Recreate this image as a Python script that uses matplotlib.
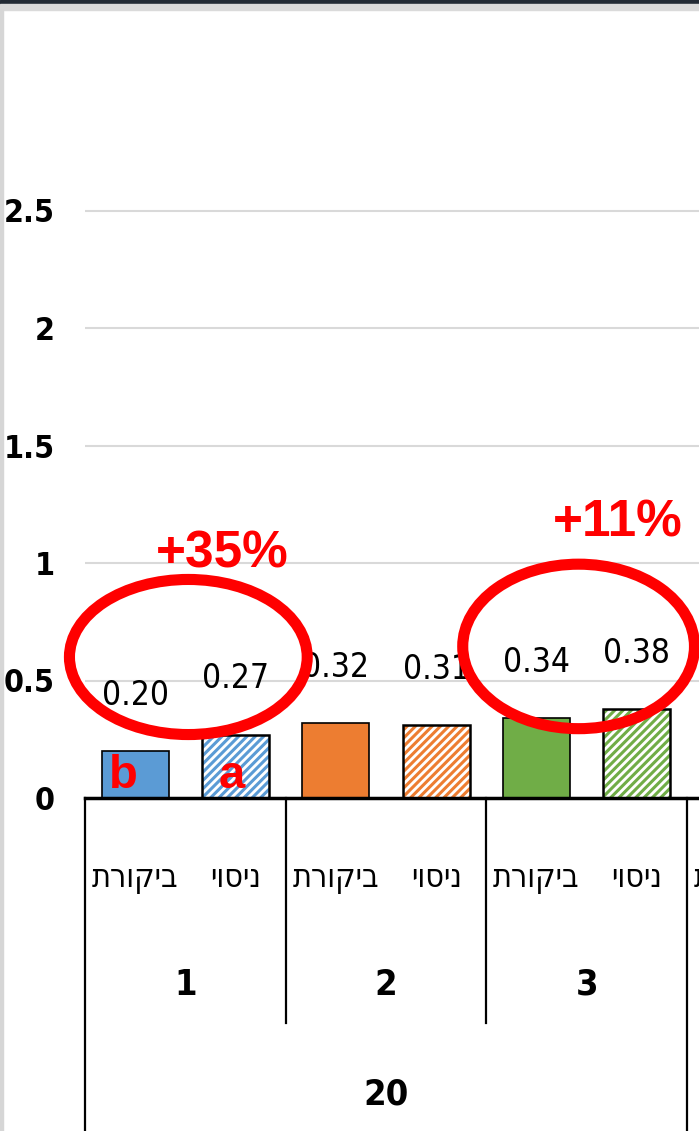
import matplotlib
matplotlib.use('Agg')
import matplotlib.pyplot as plt
from matplotlib import font_manager
from matplotlib.patches import Ellipse, Rectangle

# נתונים
values = [0.20, 0.27, 0.32, 0.31, 0.34, 0.38]
colors = ['#5B9BD5', '#5B9BD5', '#ED7D31', '#ED7D31', '#70AD47', '#70AD47']
hatched = [False, True, False, True, False, True]
bar_labels = ['ביקורת', 'ניסוי', 'ביקורת', 'ניסוי', 'ביקורת', 'ניסוי']
groups = ['1', '2', '3']
top_group = '20'
yticks = [0, 0.5, 1, 1.5, 2, 2.5]
letters = ['b', 'a']
changes = ['+35%', '+11%']

# גופן צר אם יש כזה
names = {f.name for f in font_manager.fontManager.ttflist}
if 'Liberation Sans Narrow' in names:
    NARROW = dict(family=['Liberation Sans Narrow', 'DejaVu Sans'])
else:
    NARROW = dict(family='DejaVu Sans', fontstretch='condensed')

plt.rcParams['hatch.linewidth'] = 2.2


def rtl(s):
    # matplotlib לא הופך עברית בעצמו
    return s[::-1]


fig = plt.figure(figsize=(6.99, 11.31), dpi=100)
H = 1131.0
ax = fig.add_axes([85 / 699, (H - 798) / H, 614 / 699, 705 / H])

for i, v in enumerate(values):
    if hatched[i]:
        ax.bar(i, v, 0.67, color='white', edgecolor=colors[i], hatch='////', lw=0, zorder=2)
        ax.bar(i, v, 0.67, fill=False, edgecolor='black', lw=1.8, zorder=3)
    else:
        ax.bar(i, v, 0.67, color=colors[i], edgecolor='black', lw=1.2, zorder=2)
    ax.annotate(f'{v:.2f}', (i, v), xytext=(0, 40), textcoords='offset points',
                ha='center', va='center', fontsize=24, **NARROW)

ax.set_xlim(-0.5, 5.62)
ax.set_ylim(0, 3.0)
ax.set_yticks(yticks)
ax.set_yticklabels([f'{t:g}' for t in yticks], fontsize=23, fontweight='bold', **NARROW)
ax.tick_params(axis='y', length=0, pad=22)
ax.tick_params(axis='x', length=0, labelbottom=False)
ax.grid(axis='y', color='#D9D9D9', lw=1.5, zorder=0)
for s in ['top', 'right', 'left']:
    ax.spines[s].set_visible(False)
ax.spines['bottom'].set_linewidth(2.5)

# קטגוריות מתחת לציר
tr = ax.get_xaxis_transform()
for i, lab in enumerate(bar_labels):
    ax.text(i, -0.114, rtl(lab), transform=tr, ha='center', va='center',
            fontsize=23, clip_on=False, **NARROW)
ax.text(6, -0.114, rtl('ביקורת'), transform=tr, ha='center', va='center',
        fontsize=23, clip_on=False, **NARROW)
for g, name in enumerate(groups):
    ax.text(2 * g + 0.5, -0.265, name, transform=tr, ha='center', va='center',
            fontsize=26, fontweight='bold', clip_on=False, **NARROW)
ax.text(2.5, -0.421, top_group, transform=tr, ha='center', va='center',
        fontsize=26, fontweight='bold', clip_on=False, **NARROW)

for xs in [1.5, 3.5]:
    ax.plot([xs, xs], [0, -0.319], transform=tr, color='black', lw=1.6, clip_on=False)
for xs in [-0.5, 5.5]:
    ax.plot([xs, xs], [0, -0.48], transform=tr, color='black', lw=1.6, clip_on=False)

# סימונים באדום
for i, (t, dx) in enumerate(zip(letters, [-0.12, -0.04])):
    ax.text(i + dx, 0.094, t, color='red', fontsize=34, fontweight='bold', family='Liberation Sans',
            ha='center', va='center', zorder=5)

ax.add_patch(Ellipse((0.53, 0.60), 2.37, 0.66, fill=False, edgecolor='red', lw=8, zorder=6, clip_on=False))
ax.add_patch(Ellipse((4.42, 0.645), 2.31, 0.70, fill=False, edgecolor='red', lw=8, zorder=6, clip_on=False))
ax.text(0.87, 1.04, changes[0], color='red', fontsize=37, fontweight='bold', family='Liberation Sans',
        ha='center', va='center')
ax.text(4.81, 1.17, changes[1], color='red', fontsize=37, fontweight='bold', family='Liberation Sans',
        ha='center', va='center', clip_on=False)

# מסגרת של צילום המסך
fig.patches.append(Rectangle((0, 1 - 4 / H), 1, 4 / H, transform=fig.transFigure, color='#232B35', zorder=10))
fig.patches.append(Rectangle((0, 1 - 10 / H), 1, 6 / H, transform=fig.transFigure, color='#DADADA', zorder=10))
fig.patches.append(Rectangle((0, 0), 3 / 699, 1 - 10 / H, transform=fig.transFigure, color='#D6D6D6', zorder=10))

fig.savefig('out.png', dpi=100)
